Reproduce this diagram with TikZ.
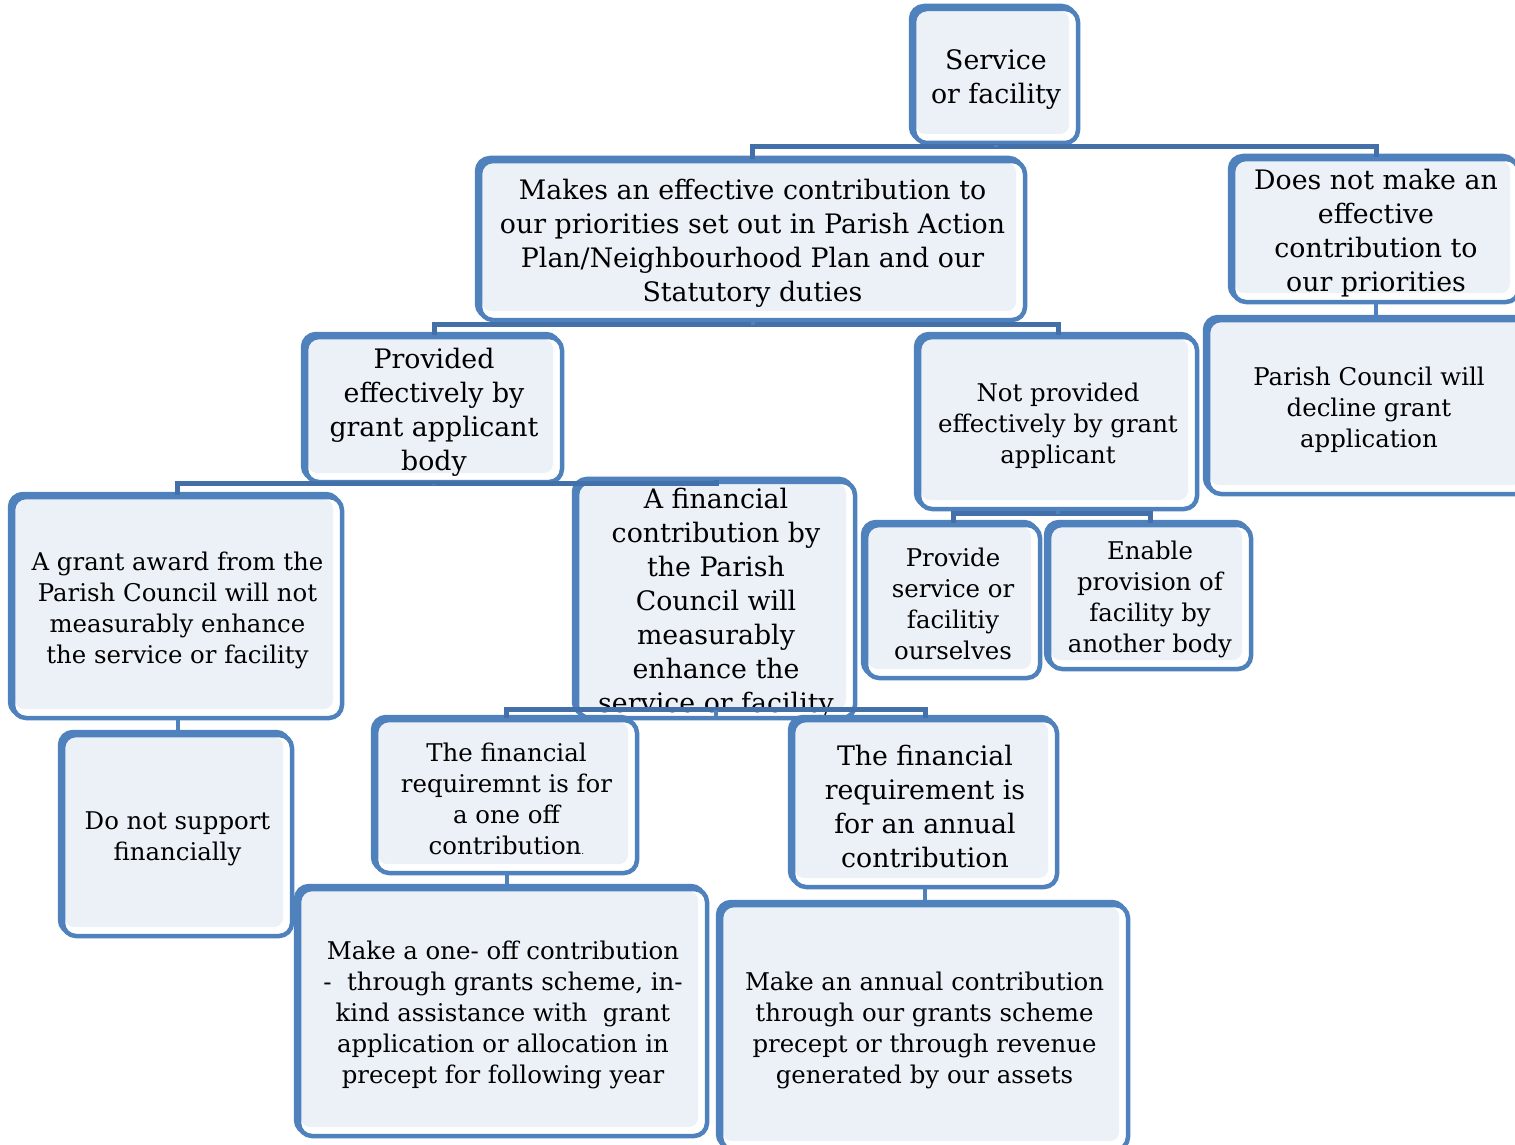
\documentclass[tikz,border=0pt]{standalone}
\usepackage{fontspec}
\setmainfont{DejaVu Serif}
\definecolor{bblue}{HTML}{4F81BD}
\definecolor{barblue}{HTML}{4470A9}
\definecolor{boxfill}{HTML}{ECF1F8}
\tikzset{
  box/.style={draw=bblue, line width=4.5pt, rounded corners=13pt, fill=white,
    inner sep=0pt, align=center, text=black,
    preaction={draw=bblue, line width=4.5pt, transform canvas={xshift=-3pt,yshift=3pt}},
    path picture={\fill[boxfill, rounded corners=9pt]
      ([shift={(2pt,-2pt)}]path picture bounding box.north west) rectangle
      ([shift={(-9pt,9pt)}]path picture bounding box.south east);}},
  small/.style={font=\fontsize{24.4}{31}\selectfont},
  large/.style={font=\fontsize{26.8}{34}\selectfont},
  conn/.style={draw=barblue, line width=5pt},
  stub/.style={draw=bblue, line width=4pt},
}
\newcommand\bx[7]{\node[box,#6,minimum width={#4pt-#2pt},minimum height={#5pt-#3pt}] (#1) at ({(#2+#4)/2},{(#3+#5)/2}) {\rule{0pt}{0.98em}#7};}
\begin{document}
\begin{tikzpicture}[x=1pt,y=-1pt]
\useasboundingbox (0,0) rectangle (1515,1145);
\fill[white] (0,0) rectangle (1515,1145);
\clip (0,0) rectangle (1515,1145);

\bx{sv}{914}{9}{1078}{143}{large}{Service\\or facility}
\bx{mk}{480}{161}{1025}{320}{large}{Makes an effective contribution to\\our priorities set out in Parish Action\\Plan/Neighbourhood Plan and our\\Statutory duties}
\bx{dn}{1233}{159}{1519}{302}{large}{Does not make an\\effective\\contribution to\\our priorities}
\bx{pc}{1208}{320}{1530}{494}{small}{Parish Council will\\decline grant\\application}
\bx{pe}{306}{337}{562}{482}{large}{Provided\\effectively by\\grant applicant\\body}
\bx{np}{919}{337}{1197}{509}{small}{Not provided\\effectively by grant\\applicant}
\bx{ga}{13}{497}{342}{718}{small}{A grant award from the\\Parish Council will not\\measurably enhance\\the service or facility}
\bx{fc}{577}{497}{855}{703}{large}{A financial\\contribution by\\the Parish\\Council will\\measurably\\enhance the\\service or facility}
\bx{ps}{866}{525}{1040}{678}{small}{Provide\\service or\\facilitiy\\ourselves}
\bx{en}{1049}{525}{1251}{669}{small}{Enable\\provision of\\facility by\\another body}
\bx{ds}{63}{735}{292}{936}{small}{Do not support\\financially}
\bx{fo}{376}{720}{637}{873}{small}{The financial\\requiremnt is for\\a one off\\contribution{\fontsize{9}{9}\selectfont.}}
\bx{fa}{793}{720}{1057}{887}{large}{The financial\\requirement is\\for an annual\\contribution}
\bx{mo}{299}{889}{707}{1136}{small}{Make a one- off contribution\\-\ \ through grants scheme, in-\\kind assistance with\ \ grant\\application or allocation in\\precept for following year}
\bx{ma}{721}{905}{1128}{1150}{small}{Make an annual contribution\\through our grants scheme\\precept or through revenue\\generated by our assets}

% connectors
\draw[conn] (mk.north) -- ++(0,-12) coordinate (j1) -| (dn.north);
\draw[stub] (sv.south) -- (sv.south |- j1);
\draw[conn] (pe.north) -- ++(0,-10) coordinate (j2) -| (np.north);
\draw[stub] (mk.south) -- (mk.south |- j2);
\draw[stub] (dn.south) -- (dn.south |- pc.north);
\draw[conn] (ga.north) -- ++(0,-11) coordinate (j3) -| (fc.north);
\draw[stub] (pe.south) -- (pe.south |- j3);
\draw[conn] (ps.north) -- ++(0,-9) coordinate (j4) -| (en.north);
\draw[stub] (np.south) -- (np.south |- j4);
\draw[stub] (ga.south) -- (ga.south |- ds.north);
\draw[conn] (fo.north) -- ++(0,-8) coordinate (j5) -| (fa.north);
\draw[stub] (fc.south) -- (fc.south |- j5);
\draw[stub] (fo.south) -- (fo.south |- mo.north);
\draw[stub] (fa.south) -- (fa.south |- ma.north);
\end{tikzpicture}
\end{document}
